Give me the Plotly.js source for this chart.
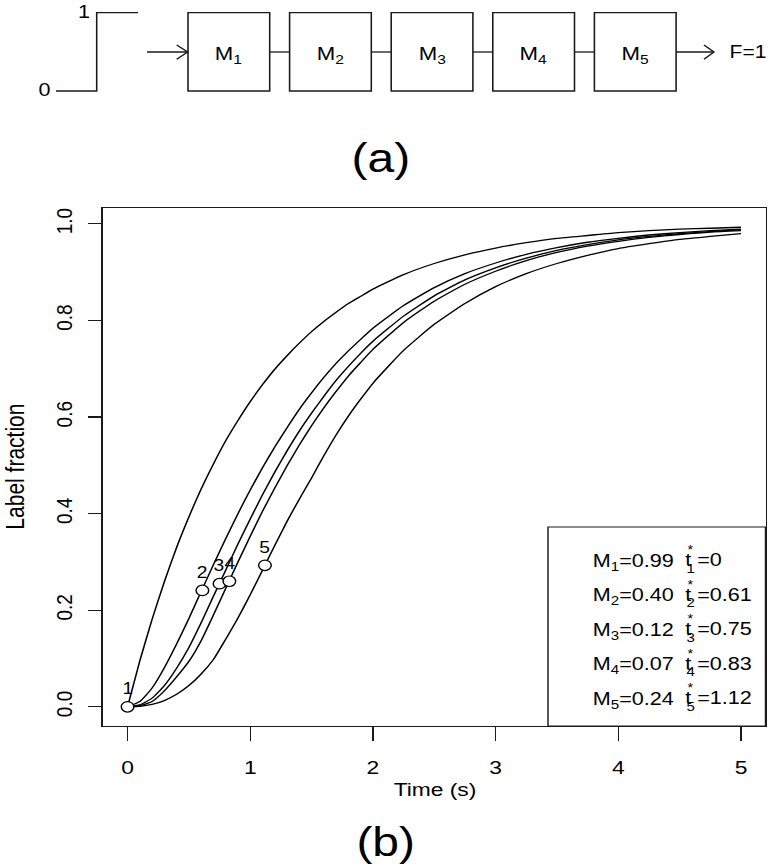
<!DOCTYPE html>
<html><head><meta charset="utf-8">
<script src="https://cdn.plot.ly/plotly-3.0.1.min.js"></script>
<style>
html,body{margin:0;padding:0;background:#fff;overflow:hidden;}
#plot{width:640px;height:866px;transform:scale(1.2,1);transform-origin:0 0;}
</style>
</head><body><div id="plot"></div>
<script>
// ---- data ----
const time   = [0,0.1,0.2,0.3,0.4,0.5,0.6,0.7,0.8,0.9,1.0,1.1,1.2,1.3,1.4,1.5,1.6,1.7,1.8,1.9,2.0,2.25,2.5,2.75,3.0,3.25,3.5,3.75,4.0,4.25,4.5,4.75,5.0];
const fracM1 = [0,0.095,0.181,0.259,0.330,0.393,0.451,0.503,0.551,0.593,0.632,0.667,0.699,0.727,0.753,0.777,0.798,0.817,0.835,0.850,0.865,0.895,0.918,0.936,0.950,0.961,0.970,0.976,0.982,0.986,0.989,0.991,0.993];
const fracM2 = [0,0.011,0.039,0.081,0.130,0.183,0.239,0.294,0.348,0.400,0.449,0.495,0.538,0.578,0.616,0.650,0.682,0.711,0.737,0.761,0.784,0.831,0.868,0.897,0.919,0.937,0.951,0.962,0.970,0.977,0.982,0.986,0.989];
const fracM3 = [0,0.004,0.018,0.044,0.080,0.123,0.174,0.229,0.283,0.337,0.389,0.439,0.486,0.530,0.571,0.608,0.643,0.676,0.705,0.732,0.757,0.809,0.851,0.884,0.909,0.929,0.945,0.957,0.967,0.974,0.980,0.984,0.988];
const fracM4 = [0,0.002,0.011,0.033,0.062,0.094,0.137,0.190,0.245,0.300,0.353,0.405,0.453,0.499,0.542,0.582,0.619,0.653,0.685,0.713,0.740,0.796,0.840,0.875,0.902,0.924,0.941,0.954,0.964,0.972,0.978,0.983,0.986];
const fracM5 = [0,0.001,0.005,0.013,0.026,0.044,0.068,0.098,0.140,0.184,0.232,0.283,0.334,0.384,0.430,0.474,0.520,0.563,0.602,0.637,0.670,0.738,0.792,0.835,0.870,0.897,0.918,0.935,0.949,0.959,0.968,0.974,0.980];
const curves = [fracM1, fracM2, fracM3, fracM4, fracM5];

const tStar        = [0, 0.61, 0.75, 0.83, 1.12];
const fracAtTStar  = [0, 0.241, 0.255, 0.260, 0.293];
const pointLabels  = ['1','2','3','4','5'];
const mValues      = ['0.99','0.40','0.12','0.07','0.24'];
const tStarText    = ['0','0.61','0.75','0.83','1.12'];
const boxLabels    = ['M<sub>1</sub>','M<sub>2</sub>','M<sub>3</sub>','M<sub>4</sub>','M<sub>5</sub>'];
const xTicks = [0,1,2,3,4,5];
const yTicks = [0,0.2,0.4,0.6,0.8,1.0];

// ---- helpers: outer-pixel -> paper ----
const W = 768, H = 866;
const px = x => x / W;
const py = y => 1 - y / H;
const FONT = 'Liberation Sans, Arial, Helvetica, sans-serif';
const LC = '#1a1a1a';

const traces = curves.map(c => ({
  x: time, y: c, type: 'scatter', mode: 'lines',
  line: {color: '#000', width: 1.3, shape: 'spline', smoothing: 0.5},
  hoverinfo: 'skip', showlegend: false
}));
traces.push({
  x: tStar, y: fracAtTStar, type: 'scatter', mode: 'markers',
  marker: {symbol: 'circle', size: 10.5, color: '#fff', line: {color: '#000', width: 1.2}},
  showlegend: false, hoverinfo: 'skip', cliponaxis: false
});

const shapes = [];
const ann = [];
function seg(x0,y0,x1,y1,w){ shapes.push({type:'line', xref:'paper', yref:'paper', x0:px(x0), y0:py(y0), x1:px(x1), y1:py(y1), line:{color:LC, width:w||1.3}}); }
function path(pts,w){ const d = pts.map((p,i)=>(i?'L':'M')+px(p[0]).toFixed(5)+','+py(p[1]).toFixed(5)).join(' ');
  shapes.push({type:'path', xref:'paper', yref:'paper', path:d, line:{color:LC, width:w||1.3}}); }

// diagram (a)
path([[56,91],[96.7,91],[96.7,12.7],[138,12.7]]);
seg(147,52,188,52);
path([[176.7,45],[187.7,52],[176.7,59.3]]);
const bx0 = 188, bw = 81.7, step = 101.6;
boxLabels.forEach((lab,i)=>{
  const x0 = bx0 + i*step;
  shapes.push({type:'rect', xref:'paper', yref:'paper', x0:px(x0), x1:px(x0+bw), y0:py(91), y1:py(12.7), line:{color:LC, width:1.3}});
  if (i < boxLabels.length-1) seg(x0+bw,52,x0+step,52);
  ann.push({xref:'paper', yref:'paper', x:px(x0+bw/2), y:py(55), text:lab, showarrow:false, xanchor:'center', yanchor:'middle', font:{family:FONT, size:18.5, color:'#000'}});
});
const lastR = bx0 + 4*step + bw;
seg(lastR,52,714,52);
path([[704,45],[714,52],[704,59.3]]);
ann.push({xref:'paper', yref:'paper', x:px(727), y:py(52), text:'F=1', showarrow:false, xanchor:'left', yanchor:'middle', font:{family:FONT, size:17.5, color:'#000'}});
ann.push({xref:'paper', yref:'paper', x:px(92), y:py(12), text:'1', showarrow:false, xanchor:'right', yanchor:'middle', font:{family:FONT, size:18, color:'#000'}});
ann.push({xref:'paper', yref:'paper', x:px(53), y:py(90), text:'0', showarrow:false, xanchor:'right', yanchor:'middle', font:{family:FONT, size:18, color:'#000'}});
ann.push({xref:'paper', yref:'paper', x:px(381), y:py(158), text:'(a)', showarrow:false, xanchor:'center', yanchor:'middle', font:{family:FONT, size:40, color:'#000'}});
ann.push({xref:'paper', yref:'paper', x:px(386), y:py(842), text:'(b)', showarrow:false, xanchor:'center', yanchor:'middle', font:{family:FONT, size:40, color:'#000'}});

// axis titles
ann.push({xref:'paper', yref:'paper', x:px(434.5), y:py(789), text:'Time (s)', showarrow:false, xanchor:'center', yanchor:'middle', font:{family:FONT, size:19, color:'#000'}});
ann.push({xref:'paper', yref:'paper', x:px(14), y:py(467), text:'Label fraction', textangle:-90, showarrow:false, xanchor:'center', yanchor:'middle', font:{family:FONT, size:21, color:'#000'}});

// point labels
pointLabels.forEach((lab,i)=>{
  ann.push({xref:'x', yref:'y', x:tStar[i], y:fracAtTStar[i], yshift:18, text:lab, showarrow:false, xanchor:'center', yanchor:'middle', font:{family:FONT, size:16, color:'#000'}});
});

// legend box
shapes.push({type:'rect', xref:'paper', yref:'paper', x0:px(548), x1:px(765.5), y0:py(726), y1:py(527), line:{color:LC, width:1.2}, fillcolor:'rgba(0,0,0,0)'});
mValues.forEach((m,i)=>{
  const yc = 560 + i*34.6;
  const f = {family:FONT, size:18, color:'#000'};
  ann.push({xref:'paper', yref:'paper', x:px(590), y:py(yc+2), text:'M<sub>'+(i+1)+'</sub>='+m, showarrow:false, xanchor:'left', yanchor:'middle', font:f});
  ann.push({xref:'paper', yref:'paper', x:px(682.5), y:py(yc), text:'t', showarrow:false, xanchor:'left', yanchor:'middle', font:f});
  ann.push({xref:'paper', yref:'paper', x:px(691), y:py(yc-10), text:'*', showarrow:false, xanchor:'center', yanchor:'middle', font:{family:FONT, size:12, color:'#000'}});
  ann.push({xref:'paper', yref:'paper', x:px(690.5), y:py(yc+8.5), text:String(i+1), showarrow:false, xanchor:'center', yanchor:'middle', font:{family:FONT, size:12.5, color:'#000'}});
  ann.push({xref:'paper', yref:'paper', x:px(694.5), y:py(yc), text:'='+tStarText[i], showarrow:false, xanchor:'left', yanchor:'middle', font:f});
});

const layout = {
  width: 640, height: 866, autosize: false,
  margin: {l:0, r:0, t:0, b:0, pad:0},
  paper_bgcolor: '#fff', plot_bgcolor: '#fff',
  showlegend: false,
  xaxis: {
    domain: [103/W, 765.5/W], range: [-0.2, 5.2], autorange: false,
    tickvals: xTicks, ticktext: xTicks.map(String),
    ticks: 'outside', ticklen: 14, tickwidth: 1.2, tickcolor: LC,
    showline: true, mirror: true, linecolor: LC, linewidth: 1.3,
    showgrid: false, zeroline: false, automargin: false,
    tickfont: {family: FONT, size: 19, color: '#000'}, ticklabelstandoff: 10
  },
  yaxis: {
    domain: [1-726/H, 1-208/H], range: [-0.0397, 1.0329], autorange: false,
    tickvals: yTicks, ticktext: yTicks.map(v=>v.toFixed(1)),
    ticks: 'outside', ticklen: 11, tickwidth: 1.2, tickcolor: LC, tickangle: -90,
    showline: true, mirror: true, linecolor: LC, linewidth: 1.3,
    showgrid: false, zeroline: false, automargin: false,
    tickfont: {family: FONT, size: 19, color: '#000'}, ticklabelstandoff: 6
  },
  shapes: shapes,
  annotations: ann
};

Plotly.newPlot('plot', traces, layout, {staticPlot: true, displayModeBar: false});
</script>
</body></html>
